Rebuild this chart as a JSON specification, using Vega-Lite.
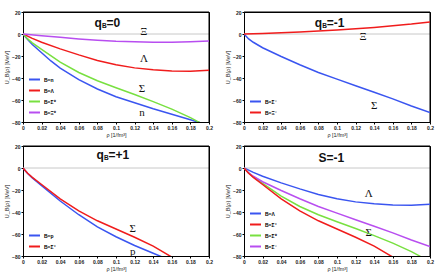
{
  "$schema": "https://vega.github.io/schema/vega-lite/v6.json",
  "padding": {"left": 4, "top": 9, "right": 3, "bottom": 5},
  "bounds": "flush",
  "spacing": {"row": 24, "column": 35},
  "columns": 2,
  "resolve": {"scale": {"color": "independent"}, "legend": {"color": "independent"}},
  "datasets": {
    "curves": [
      {"B": "B=n", "rho": 0, "U": 0}, {"B": "B=n", "rho": 0.005, "U": -5}, {"B": "B=n", "rho": 0.01, "U": -9.5}, {"B": "B=n", "rho": 0.02, "U": -17}, {"B": "B=n", "rho": 0.03, "U": -24.5}, {"B": "B=n", "rho": 0.04, "U": -31}, {"B": "B=n", "rho": 0.06, "U": -41.5}, {"B": "B=n", "rho": 0.08, "U": -50}, {"B": "B=n", "rho": 0.1, "U": -57}, {"B": "B=n", "rho": 0.12, "U": -62.5}, {"B": "B=n", "rho": 0.14, "U": -68}, {"B": "B=n", "rho": 0.16, "U": -73}, {"B": "B=n", "rho": 0.18, "U": -78}, {"B": "B=n", "rho": 0.19, "U": -80.5},
      {"B": "B=Λ", "rho": 0, "U": 0}, {"B": "B=Λ", "rho": 0.01, "U": -4}, {"B": "B=Λ", "rho": 0.02, "U": -7.5}, {"B": "B=Λ", "rho": 0.04, "U": -13.5}, {"B": "B=Λ", "rho": 0.06, "U": -19}, {"B": "B=Λ", "rho": 0.08, "U": -24}, {"B": "B=Λ", "rho": 0.1, "U": -28}, {"B": "B=Λ", "rho": 0.12, "U": -30.8}, {"B": "B=Λ", "rho": 0.14, "U": -32.6}, {"B": "B=Λ", "rho": 0.16, "U": -33.6}, {"B": "B=Λ", "rho": 0.18, "U": -33.8}, {"B": "B=Λ", "rho": 0.2, "U": -33},
      {"B": "B=Σ⁰", "rho": 0, "U": 0}, {"B": "B=Σ⁰", "rho": 0.005, "U": -4.5}, {"B": "B=Σ⁰", "rho": 0.01, "U": -8}, {"B": "B=Σ⁰", "rho": 0.02, "U": -14}, {"B": "B=Σ⁰", "rho": 0.04, "U": -25.5}, {"B": "B=Σ⁰", "rho": 0.06, "U": -35}, {"B": "B=Σ⁰", "rho": 0.08, "U": -42.5}, {"B": "B=Σ⁰", "rho": 0.1, "U": -48.8}, {"B": "B=Σ⁰", "rho": 0.12, "U": -55}, {"B": "B=Σ⁰", "rho": 0.14, "U": -61.5}, {"B": "B=Σ⁰", "rho": 0.16, "U": -68.3}, {"B": "B=Σ⁰", "rho": 0.18, "U": -76}, {"B": "B=Σ⁰", "rho": 0.19, "U": -80.5},
      {"B": "B=Ξ⁰", "rho": 0, "U": 0}, {"B": "B=Ξ⁰", "rho": 0.02, "U": -1.5}, {"B": "B=Ξ⁰", "rho": 0.04, "U": -3}, {"B": "B=Ξ⁰", "rho": 0.06, "U": -4.5}, {"B": "B=Ξ⁰", "rho": 0.08, "U": -5.7}, {"B": "B=Ξ⁰", "rho": 0.1, "U": -6.6}, {"B": "B=Ξ⁰", "rho": 0.12, "U": -7.1}, {"B": "B=Ξ⁰", "rho": 0.14, "U": -7.4}, {"B": "B=Ξ⁰", "rho": 0.16, "U": -7.4}, {"B": "B=Ξ⁰", "rho": 0.18, "U": -7}, {"B": "B=Ξ⁰", "rho": 0.2, "U": -6.3},
      {"B": "B=Σ⁻", "rho": 0, "U": 0}, {"B": "B=Σ⁻", "rho": 0.005, "U": -4.5}, {"B": "B=Σ⁻", "rho": 0.01, "U": -7.5}, {"B": "B=Σ⁻", "rho": 0.02, "U": -12.5}, {"B": "B=Σ⁻", "rho": 0.04, "U": -20.5}, {"B": "B=Σ⁻", "rho": 0.06, "U": -28}, {"B": "B=Σ⁻", "rho": 0.08, "U": -35}, {"B": "B=Σ⁻", "rho": 0.1, "U": -41}, {"B": "B=Σ⁻", "rho": 0.12, "U": -47}, {"B": "B=Σ⁻", "rho": 0.14, "U": -53}, {"B": "B=Σ⁻", "rho": 0.16, "U": -59}, {"B": "B=Σ⁻", "rho": 0.18, "U": -65.5}, {"B": "B=Σ⁻", "rho": 0.2, "U": -71.5},
      {"B": "B=Ξ⁻", "rho": 0, "U": 0}, {"B": "B=Ξ⁻", "rho": 0.02, "U": 0.5}, {"B": "B=Ξ⁻", "rho": 0.04, "U": 1.1}, {"B": "B=Ξ⁻", "rho": 0.06, "U": 1.8}, {"B": "B=Ξ⁻", "rho": 0.08, "U": 2.7}, {"B": "B=Ξ⁻", "rho": 0.1, "U": 3.7}, {"B": "B=Ξ⁻", "rho": 0.12, "U": 4.8}, {"B": "B=Ξ⁻", "rho": 0.14, "U": 6}, {"B": "B=Ξ⁻", "rho": 0.16, "U": 7.4}, {"B": "B=Ξ⁻", "rho": 0.18, "U": 9}, {"B": "B=Ξ⁻", "rho": 0.2, "U": 11},
      {"B": "B=p", "rho": 0, "U": 0}, {"B": "B=p", "rho": 0.005, "U": -5}, {"B": "B=p", "rho": 0.01, "U": -9}, {"B": "B=p", "rho": 0.02, "U": -16}, {"B": "B=p", "rho": 0.04, "U": -30}, {"B": "B=p", "rho": 0.06, "U": -42.5}, {"B": "B=p", "rho": 0.08, "U": -53.5}, {"B": "B=p", "rho": 0.1, "U": -62.5}, {"B": "B=p", "rho": 0.12, "U": -70.5}, {"B": "B=p", "rho": 0.14, "U": -77.5}, {"B": "B=p", "rho": 0.15, "U": -81},
      {"B": "B=Σ⁺", "rho": 0, "U": 0}, {"B": "B=Σ⁺", "rho": 0.005, "U": -4.8}, {"B": "B=Σ⁺", "rho": 0.01, "U": -8.5}, {"B": "B=Σ⁺", "rho": 0.02, "U": -15}, {"B": "B=Σ⁺", "rho": 0.04, "U": -28}, {"B": "B=Σ⁺", "rho": 0.06, "U": -39}, {"B": "B=Σ⁺", "rho": 0.08, "U": -48}, {"B": "B=Σ⁺", "rho": 0.1, "U": -55.5}, {"B": "B=Σ⁺", "rho": 0.12, "U": -63}, {"B": "B=Σ⁺", "rho": 0.14, "U": -71}, {"B": "B=Σ⁺", "rho": 0.16, "U": -81}
    ],
    "zero": [{"rho": 0, "rho2": 0.2, "U": 0}],
    "top": [{"rho": 0, "rho2": 0.2, "U": 20}],
    "right": [{"rho": 0.2, "U": -80, "U2": 20}]
  },
  "config": {
    "font": "Liberation Sans",
    "view": {"stroke": "#000", "strokeWidth": 1},
    "axis": {"domain": true, "domainColor": "#000", "domainWidth": 1, "grid": false, "ticks": true, "tickSize": 2, "tickColor": "#000", "labelFontSize": 5, "labelColor": "#222", "labelFontWeight": "bold", "labelOverlap": false, "labelBound": false, "labelFlush": false, "titleFontSize": 5.5, "titleFontWeight": "normal", "titleColor": "#222", "labelPadding": 1, "titlePadding": 2},
    "legend": {"orient": "bottom-left", "title": null, "symbolType": "stroke", "symbolStrokeWidth": 2, "symbolSize": 120, "labelFontSize": 5, "labelFontWeight": "bold", "rowPadding": 0, "offset": 5, "symbolOffset": 0, "labelOffset": 3}
  },
  "concat": [
    {
      "width": 186, "height": 110,
      "encoding": {
        "x": {"field": "rho", "type": "quantitative", "scale": {"domain": [0, 0.2], "nice": false, "zero": false}, "axis": {"title": "ρ [1/fm³]", "values": [0, 0.02, 0.04, 0.06, 0.08, 0.1, 0.12, 0.14, 0.16, 0.18, 0.2], "format": "~g"}},
        "y": {"field": "U", "type": "quantitative", "scale": {"domain": [-80, 20], "nice": false, "zero": false}, "axis": {"title": "U_B(ρ) [MeV]", "values": [-80, -60, -40, -20, 0, 20], "format": "d"}}
      },
      "layer": [
        {"data": {"name": "zero"}, "mark": {"type": "rule", "color": "#c8c8c8", "strokeWidth": 1}, "encoding": {"x2": {"field": "rho2"}}},
        {"data": {"name": "top"}, "mark": {"type": "rule", "color": "#000", "strokeWidth": 1}, "encoding": {"x2": {"field": "rho2"}}},
        {"data": {"name": "right"}, "mark": {"type": "rule", "color": "#000", "strokeWidth": 1}, "encoding": {"y2": {"field": "U2"}}},
        {
          "data": {"name": "curves"},
          "transform": [{"filter": {"field": "B", "oneOf": ["B=n", "B=Λ", "B=Σ⁰", "B=Ξ⁰"]}}],
          "mark": {"type": "line", "clip": true, "strokeWidth": 1.5},
          "encoding": {"color": {"field": "B", "type": "nominal", "sort": null, "scale": {"domain": ["B=n", "B=Λ", "B=Σ⁰", "B=Ξ⁰"], "range": ["#3a55f0", "#f01c1c", "#78e040", "#b84ef0"]}}}
        },
        {
          "data": {"values": [{"rho": 0.13, "U": 2, "lab": "Ξ"}, {"rho": 0.13, "U": -23, "lab": "Λ"}, {"rho": 0.128, "U": -50, "lab": "Σ"}, {"rho": 0.128, "U": -71.5, "lab": "n"}]},
          "mark": {"type": "text", "font": "Liberation Serif", "fontSize": 11, "color": "#111"},
          "encoding": {"text": {"field": "lab"}}
        },
        {
          "data": {"values": [{"rho": 0.077, "U": 10, "q": "q", "sub": "B", "rest": "=0"}]},
          "layer": [
            {"mark": {"type": "text", "align": "left", "fontSize": 12, "fontWeight": "bold", "color": "#111"}, "encoding": {"text": {"field": "q"}}},
            {"mark": {"type": "text", "align": "left", "fontSize": 6.5, "fontWeight": "bold", "dx": 7.5, "dy": 3, "color": "#111"}, "encoding": {"text": {"field": "sub"}}},
            {"mark": {"type": "text", "align": "left", "fontSize": 12, "fontWeight": "bold", "dx": 12, "color": "#111"}, "encoding": {"text": {"field": "rest"}}}
          ]
        }
      ]
    },
    {
      "width": 186, "height": 110,
      "encoding": {
        "x": {"field": "rho", "type": "quantitative", "scale": {"domain": [0, 0.2], "nice": false, "zero": false}, "axis": {"title": "ρ [1/fm³]", "values": [0, 0.02, 0.04, 0.06, 0.08, 0.1, 0.12, 0.14, 0.16, 0.18, 0.2], "format": "~g"}},
        "y": {"field": "U", "type": "quantitative", "scale": {"domain": [-80, 20], "nice": false, "zero": false}, "axis": {"title": "U_B(ρ) [MeV]", "values": [-80, -60, -40, -20, 0, 20], "format": "d"}}
      },
      "layer": [
        {"data": {"name": "zero"}, "mark": {"type": "rule", "color": "#c8c8c8", "strokeWidth": 1}, "encoding": {"x2": {"field": "rho2"}}},
        {"data": {"name": "top"}, "mark": {"type": "rule", "color": "#000", "strokeWidth": 1}, "encoding": {"x2": {"field": "rho2"}}},
        {"data": {"name": "right"}, "mark": {"type": "rule", "color": "#000", "strokeWidth": 1}, "encoding": {"y2": {"field": "U2"}}},
        {
          "data": {"name": "curves"},
          "transform": [{"filter": {"field": "B", "oneOf": ["B=Σ⁻", "B=Ξ⁻"]}}],
          "mark": {"type": "line", "clip": true, "strokeWidth": 1.5},
          "encoding": {"color": {"field": "B", "type": "nominal", "sort": null, "scale": {"domain": ["B=Σ⁻", "B=Ξ⁻"], "range": ["#3a55f0", "#f01c1c"]}}}
        },
        {
          "data": {"values": [{"rho": 0.128, "U": -3, "lab": "Ξ"}, {"rho": 0.14, "U": -65, "lab": "Σ"}]},
          "mark": {"type": "text", "font": "Liberation Serif", "fontSize": 11, "color": "#111"},
          "encoding": {"text": {"field": "lab"}}
        },
        {
          "data": {"values": [{"rho": 0.076, "U": 10, "q": "q", "sub": "B", "rest": "=-1"}]},
          "layer": [
            {"mark": {"type": "text", "align": "left", "fontSize": 12, "fontWeight": "bold", "color": "#111"}, "encoding": {"text": {"field": "q"}}},
            {"mark": {"type": "text", "align": "left", "fontSize": 6.5, "fontWeight": "bold", "dx": 7.5, "dy": 3, "color": "#111"}, "encoding": {"text": {"field": "sub"}}},
            {"mark": {"type": "text", "align": "left", "fontSize": 12, "fontWeight": "bold", "dx": 12, "color": "#111"}, "encoding": {"text": {"field": "rest"}}}
          ]
        }
      ]
    },
    {
      "width": 186, "height": 110,
      "encoding": {
        "x": {"field": "rho", "type": "quantitative", "scale": {"domain": [0, 0.2], "nice": false, "zero": false}, "axis": {"title": "ρ [1/fm³]", "values": [0, 0.02, 0.04, 0.06, 0.08, 0.1, 0.12, 0.14, 0.16, 0.18, 0.2], "format": "~g"}},
        "y": {"field": "U", "type": "quantitative", "scale": {"domain": [-80, 20], "nice": false, "zero": false}, "axis": {"title": "U_B(ρ) [MeV]", "values": [-80, -60, -40, -20, 0, 20], "format": "d"}}
      },
      "layer": [
        {"data": {"name": "zero"}, "mark": {"type": "rule", "color": "#c8c8c8", "strokeWidth": 1}, "encoding": {"x2": {"field": "rho2"}}},
        {"data": {"name": "top"}, "mark": {"type": "rule", "color": "#000", "strokeWidth": 1}, "encoding": {"x2": {"field": "rho2"}}},
        {"data": {"name": "right"}, "mark": {"type": "rule", "color": "#000", "strokeWidth": 1}, "encoding": {"y2": {"field": "U2"}}},
        {
          "data": {"name": "curves"},
          "transform": [{"filter": {"field": "B", "oneOf": ["B=p", "B=Σ⁺"]}}],
          "mark": {"type": "line", "clip": true, "strokeWidth": 1.5},
          "encoding": {"color": {"field": "B", "type": "nominal", "sort": null, "scale": {"domain": ["B=p", "B=Σ⁺"], "range": ["#3a55f0", "#f01c1c"]}}}
        },
        {
          "data": {"values": [{"rho": 0.118, "U": -55, "lab": "Σ"}, {"rho": 0.118, "U": -76, "lab": "p"}]},
          "mark": {"type": "text", "font": "Liberation Serif", "fontSize": 11, "color": "#111"},
          "encoding": {"text": {"field": "lab"}}
        },
        {
          "data": {"values": [{"rho": 0.079, "U": 12, "q": "q", "sub": "B", "rest": "=+1"}]},
          "layer": [
            {"mark": {"type": "text", "align": "left", "fontSize": 12, "fontWeight": "bold", "color": "#111"}, "encoding": {"text": {"field": "q"}}},
            {"mark": {"type": "text", "align": "left", "fontSize": 6.5, "fontWeight": "bold", "dx": 7.5, "dy": 3, "color": "#111"}, "encoding": {"text": {"field": "sub"}}},
            {"mark": {"type": "text", "align": "left", "fontSize": 12, "fontWeight": "bold", "dx": 12, "color": "#111"}, "encoding": {"text": {"field": "rest"}}}
          ]
        }
      ]
    },
    {
      "width": 186, "height": 110,
      "encoding": {
        "x": {"field": "rho", "type": "quantitative", "scale": {"domain": [0, 0.2], "nice": false, "zero": false}, "axis": {"title": "ρ [1/fm³]", "values": [0, 0.02, 0.04, 0.06, 0.08, 0.1, 0.12, 0.14, 0.16, 0.18, 0.2], "format": "~g"}},
        "y": {"field": "U", "type": "quantitative", "scale": {"domain": [-80, 20], "nice": false, "zero": false}, "axis": {"title": "U_B(ρ) [MeV]", "values": [-80, -60, -40, -20, 0, 20], "format": "d"}}
      },
      "layer": [
        {"data": {"name": "zero"}, "mark": {"type": "rule", "color": "#c8c8c8", "strokeWidth": 1}, "encoding": {"x2": {"field": "rho2"}}},
        {"data": {"name": "top"}, "mark": {"type": "rule", "color": "#000", "strokeWidth": 1}, "encoding": {"x2": {"field": "rho2"}}},
        {"data": {"name": "right"}, "mark": {"type": "rule", "color": "#000", "strokeWidth": 1}, "encoding": {"y2": {"field": "U2"}}},
        {
          "data": {"name": "curves"},
          "transform": [{"filter": {"field": "B", "oneOf": ["B=Λ", "B=Σ⁺", "B=Σ⁰", "B=Σ⁻"]}}],
          "mark": {"type": "line", "clip": true, "strokeWidth": 1.5},
          "encoding": {"color": {"field": "B", "type": "nominal", "sort": null, "scale": {"domain": ["B=Λ", "B=Σ⁺", "B=Σ⁰", "B=Σ⁻"], "range": ["#3a55f0", "#f01c1c", "#78e040", "#b84ef0"]}}}
        },
        {
          "data": {"values": [{"rho": 0.134, "U": -24, "lab": "Λ"}, {"rho": 0.134, "U": -59.5, "lab": "Σ"}]},
          "mark": {"type": "text", "font": "Liberation Serif", "fontSize": 11, "color": "#111"},
          "encoding": {"text": {"field": "lab"}}
        },
        {
          "data": {"values": [{"rho": 0.08, "U": 9, "t": "S=-1"}]},
          "mark": {"type": "text", "align": "left", "fontSize": 12, "fontWeight": "bold", "color": "#111"},
          "encoding": {"text": {"field": "t"}}
        }
      ]
    }
  ]
}
